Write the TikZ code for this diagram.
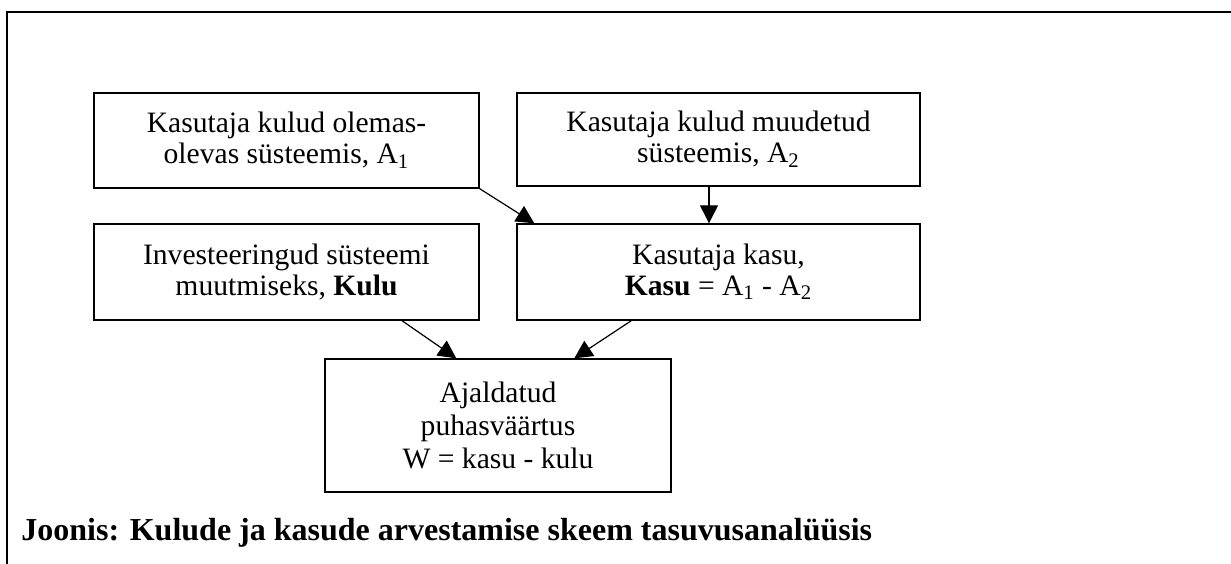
\documentclass[tikz,border=0pt]{standalone}
\usepackage{fontspec}
\setmainfont{Liberation Serif}
\usetikzlibrary{arrows.meta}
\begin{document}
\begin{tikzpicture}[x=0.5pt,y=-0.5pt,
  box/.style={draw=black,line width=0.7pt,align=center,inner sep=0pt,
    font=\fontsize{14.8}{15.5}\selectfont},
  arr/.style={line width=0.6pt,-{Triangle[length=9pt,width=9pt]}},
  frameline/.style={line width=1.3pt,line cap=rect}]
\useasboundingbox (0,0) rectangle (1231,563);
\draw[frameline] (7,563) -- (7,12) -- (1231,12);
\node[box,minimum width=192.5pt,minimum height=47.5pt] (A) at (286.5,140.5)
  {Kasutaja kulud olemas-\\olevas süsteemis, A\textsubscript{1}};
\node[box,minimum width=201.5pt,minimum height=46.5pt] (B) at (718.5,139.5)
  {Kasutaja kulud muudetud\\süsteemis, A\textsubscript{2}};
\node[box,minimum width=192.5pt,minimum height=48pt] (C) at (286.5,272)
  {Investeeringud süsteemi\\muutmiseks, \textbf{Kulu}};
\node[box,minimum width=201.5pt,minimum height=48pt] (D) at (718.5,272)
  {Kasutaja kasu,\\\textbf{Kasu} = A\textsubscript{1} - A\textsubscript{2}};
\node[box,minimum width=173pt,minimum height=66.5pt,
  font=\fontsize{14.8}{16.5}\selectfont] (E) at (498,425.5)
  {Ajaldatud\\puhasväärtus\\W = kasu - kulu};
\draw[arr] (A.south east) -- ([xshift=9pt]D.north west);
\draw[arr] ([xshift=-4.75pt]B.south) -- ([xshift=-4.75pt]D.north);
\draw[arr] ([xshift=57.75pt]C.south) -- ([xshift=66pt]E.north west);
\draw[arr] ([xshift=57.5pt]D.south west) -- ([xshift=125pt]E.north west);
\node[anchor=base west,inner sep=0pt,font=\fontsize{16}{18}\selectfont\bfseries] (cap) at (21,540)
  {Joonis: Kulude ja kasude arvestamise skeem tasuvusanalüüsis};
\end{tikzpicture}
\end{document}
